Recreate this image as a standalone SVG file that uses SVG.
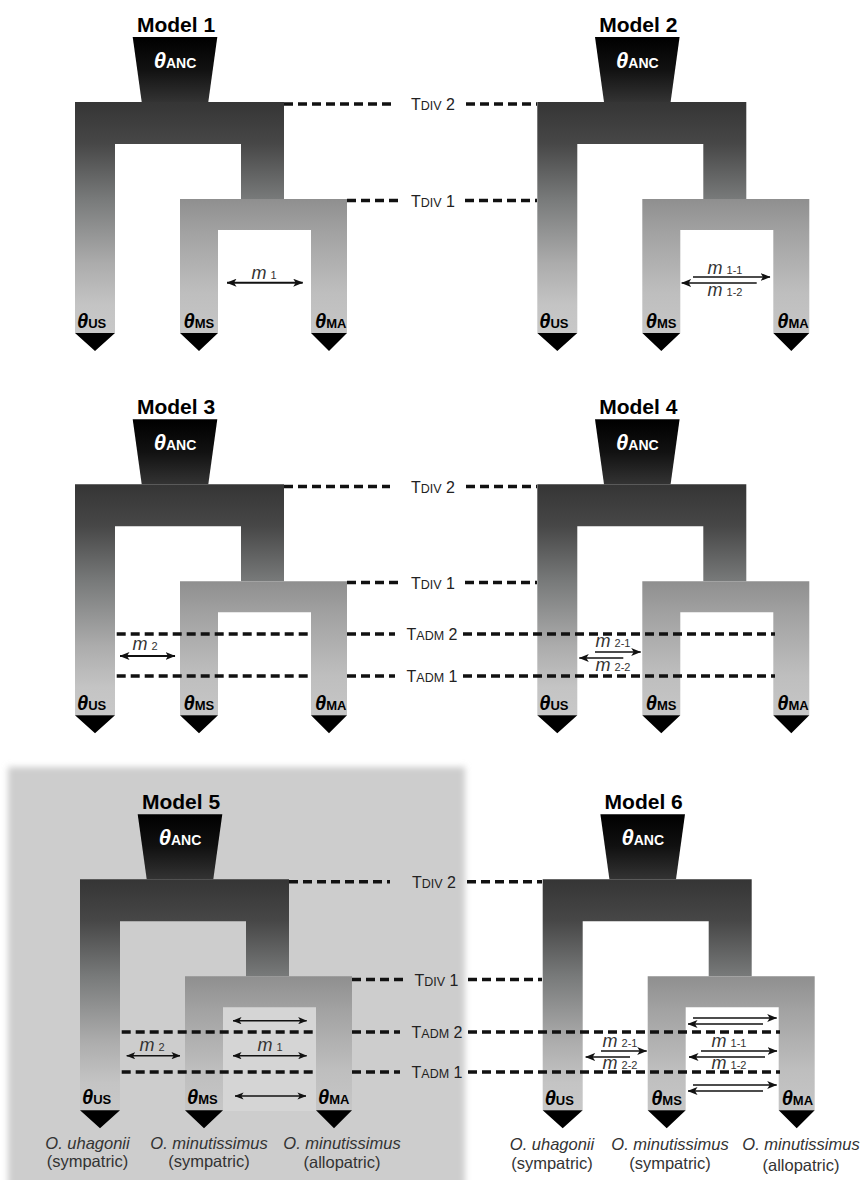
<svg xmlns="http://www.w3.org/2000/svg" xmlns:xlink="http://www.w3.org/1999/xlink" width="866" height="1180" viewBox="0 0 866 1180">
<style>
text{font-family:"Liberation Sans",Arial,sans-serif}
.title{font-weight:bold;font-size:21px;text-anchor:middle;fill:#000}
.anc{font-weight:bold;font-size:14px;fill:#fff;text-anchor:middle}
.leaf{font-weight:bold;font-size:13px;fill:#000}
.th{font-style:italic;font-size:20px}
.tha{font-style:italic;font-size:22px}
.tl{font-size:16px;fill:#222;text-anchor:middle}
.sc{font-size:12.5px}
.ml{font-size:18px;font-style:italic;fill:#333;text-anchor:middle}
.sub{font-size:11px;font-style:normal}
.sp{font-size:16.5px;fill:#333;text-anchor:middle}
.it{font-style:italic}
.dash{stroke:#111;stroke-width:3.5;stroke-dasharray:9 5;fill:none}
.arr{stroke:#111;stroke-width:2;fill:none}
.arrd{stroke:#111;stroke-width:1.7;fill:none}
.arrt{stroke:#111;stroke-width:1.4;fill:none}
.b2{marker-start:url(#ah);marker-end:url(#ah)}
.e{marker-end:url(#ah)}
.s{marker-start:url(#ah)}
.bt{marker-start:url(#ahs);marker-end:url(#ahs)}
</style>
<defs>
<linearGradient id="gU" x1="0" y1="0" x2="0" y2="1">
<stop offset="0" stop-color="#353535"/>
<stop offset="0.18" stop-color="#474747"/>
<stop offset="0.42" stop-color="#787a7a"/>
<stop offset="0.7" stop-color="#acacac"/>
<stop offset="0.88" stop-color="#c4c4c4"/>
<stop offset="1" stop-color="#c8c8c8"/>
</linearGradient>
<linearGradient id="gL" x1="0" y1="0" x2="0" y2="1">
<stop offset="0" stop-color="#8f8f8f"/>
<stop offset="0.25" stop-color="#a2a2a2"/>
<stop offset="0.7" stop-color="#bebebe"/>
<stop offset="1" stop-color="#c6c6c6"/>
</linearGradient>
<linearGradient id="gA" x1="0" y1="0" x2="0" y2="1">
<stop offset="0" stop-color="#000"/>
<stop offset="0.5" stop-color="#111"/>
<stop offset="1" stop-color="#333"/>
</linearGradient>
<filter id="soft" x="-5%" y="-5%" width="110%" height="110%"><feGaussianBlur stdDeviation="3"/></filter>
<marker id="ah" viewBox="0 0 10 8" refX="9.5" refY="4" markerWidth="10" markerHeight="8" markerUnits="userSpaceOnUse" orient="auto-start-reverse"><path d="M0,0 L10,4 L0,8 L2.5,4 Z" fill="#111"/></marker>
<marker id="ahs" viewBox="0 0 10 8" refX="9.5" refY="4" markerWidth="9" markerHeight="7.5" markerUnits="userSpaceOnUse" orient="auto-start-reverse"><path d="M0,0 L10,4 L0,8 L2.5,4 Z" fill="#111"/></marker>
<path id="upper" d="M0,0 H209 V97 H166 V42 H40 V231 H0 Z"/>
<path id="lower" d="M105,97 H272 V231 H236 V128 H143 V231 H105 Z"/>
<path id="anc" d="M57.7,-65 H142.3 L133.3,0 H66.7 Z"/>
<path id="tri" d="M0,231 H40 L20,249 Z M105,231 H143 L124,249 Z M236,231 H272 L254,249 Z"/>
</defs>
<rect width="866" height="1180" fill="#fff"/>
<rect x="8" y="767" width="457" height="430" fill="#cdcdcd" filter="url(#soft)"/>
<rect x="223" y="1007" width="93" height="104" fill="#d5d5d5"/>

<g id="model1" transform="translate(75,102)">
<use href="#upper" fill="url(#gU)"/><use href="#lower" fill="url(#gL)"/><use href="#anc" fill="url(#gA)"/><use href="#tri" fill="#000"/>
<text class="title" x="101" y="-70">Model 1</text>
<text class="anc" x="100" y="-34"><tspan class="tha">θ</tspan>ANC</text>
<text class="leaf" x="2" y="226"><tspan class="th">θ</tspan>US</text>
<text class="leaf" x="108.5" y="226"><tspan class="th">θ</tspan>MS</text>
<text class="leaf" x="240" y="226"><tspan class="th">θ</tspan>MA</text>
</g>
<g id="model2" transform="translate(537.3,102)">
<use href="#upper" fill="url(#gU)"/><use href="#lower" fill="url(#gL)"/><use href="#anc" fill="url(#gA)"/><use href="#tri" fill="#000"/>
<text class="title" x="101" y="-70">Model 2</text>
<text class="anc" x="100" y="-34"><tspan class="tha">θ</tspan>ANC</text>
<text class="leaf" x="2" y="226"><tspan class="th">θ</tspan>US</text>
<text class="leaf" x="108.5" y="226"><tspan class="th">θ</tspan>MS</text>
<text class="leaf" x="240" y="226"><tspan class="th">θ</tspan>MA</text>
</g>
<g id="model3" transform="translate(75,484.3)">
<use href="#upper" fill="url(#gU)"/><use href="#lower" fill="url(#gL)"/><use href="#anc" fill="url(#gA)"/><use href="#tri" fill="#000"/>
<text class="title" x="101" y="-70">Model 3</text>
<text class="anc" x="100" y="-34"><tspan class="tha">θ</tspan>ANC</text>
<text class="leaf" x="2" y="226"><tspan class="th">θ</tspan>US</text>
<text class="leaf" x="108.5" y="226"><tspan class="th">θ</tspan>MS</text>
<text class="leaf" x="240" y="226"><tspan class="th">θ</tspan>MA</text>
</g>
<g id="model4" transform="translate(537.3,484.3)">
<use href="#upper" fill="url(#gU)"/><use href="#lower" fill="url(#gL)"/><use href="#anc" fill="url(#gA)"/><use href="#tri" fill="#000"/>
<text class="title" x="101" y="-70">Model 4</text>
<text class="anc" x="100" y="-34"><tspan class="tha">θ</tspan>ANC</text>
<text class="leaf" x="2" y="226"><tspan class="th">θ</tspan>US</text>
<text class="leaf" x="108.5" y="226"><tspan class="th">θ</tspan>MS</text>
<text class="leaf" x="240" y="226"><tspan class="th">θ</tspan>MA</text>
</g>
<g id="model5" transform="translate(80,879.3)">
<use href="#upper" fill="url(#gU)"/><use href="#lower" fill="url(#gL)"/><use href="#anc" fill="url(#gA)"/><use href="#tri" fill="#000"/>
<text class="title" x="101" y="-70">Model 5</text>
<text class="anc" x="100" y="-34"><tspan class="tha">θ</tspan>ANC</text>
<text class="leaf" x="2" y="225"><tspan class="th">θ</tspan>US</text>
<text class="leaf" x="107" y="225"><tspan class="th">θ</tspan>MS</text>
<text class="leaf" x="238" y="225"><tspan class="th">θ</tspan>MA</text>
</g>
<g id="model6" transform="translate(542.7,879.3)">
<use href="#upper" fill="url(#gU)"/><use href="#lower" fill="url(#gL)"/><use href="#anc" fill="url(#gA)"/><use href="#tri" fill="#000"/>
<text class="title" x="101" y="-70">Model 6</text>
<text class="anc" x="100" y="-34"><tspan class="tha">θ</tspan>ANC</text>
<text class="leaf" x="2" y="226"><tspan class="th">θ</tspan>US</text>
<text class="leaf" x="108.5" y="226"><tspan class="th">θ</tspan>MS</text>
<text class="leaf" x="239" y="226"><tspan class="th">θ</tspan>MA</text>
</g>

<g id="connectors">
<path class="dash" d="M284,104 H392 M466,104 H537"/>
<path class="dash" d="M347,200.5 H400 M465,200.5 H537"/>
<path class="dash" d="M284,486.5 H390 M466,486.5 H537"/>
<path class="dash" d="M347,582.5 H400 M465,582.5 H537"/>
<path class="dash" d="M116.7,634 H310.7 M347,634 H395 M463,634 H775"/>
<path class="dash" d="M116.7,676 H310.7 M347,676 H395 M463,676 H775"/>
<path class="dash" d="M289,881.7 H390 M467,881.7 H542"/>
<path class="dash" d="M352,979.5 H405 M468,979.5 H542"/>
<path class="dash" d="M121.7,1032 H316 M352,1032 H400 M468,1032 H780"/>
<path class="dash" d="M121.7,1072 H316 M352,1072 H400 M468,1072 H780"/>

<line class="arr b2" x1="227" y1="282.7" x2="302.7" y2="282.7"/>
<line class="arrd e" x1="693" y1="277" x2="770" y2="277"/>
<line class="arrd s" x1="681.7" y1="283" x2="756.7" y2="283"/>
<line class="arr b2" x1="120" y1="656" x2="175" y2="656"/>
<line class="arrd e" x1="595" y1="652" x2="640.7" y2="652"/>
<line class="arrd s" x1="579.3" y1="658" x2="623.3" y2="658"/>
<line class="arrt bt" x1="233" y1="1020.7" x2="306.7" y2="1020.7"/>
<line class="arrt bt" x1="233" y1="1055.7" x2="306.7" y2="1055.7"/>
<line class="arrt bt" x1="126.7" y1="1055.7" x2="180" y2="1055.7"/>
<line class="arrt bt" x1="235" y1="1096" x2="306" y2="1096"/>
<line class="arrd e" x1="693" y1="1018" x2="776.7" y2="1018"/>
<line class="arrd s" x1="688" y1="1024" x2="763" y2="1024"/>
<line class="arrd e" x1="701" y1="1051" x2="777" y2="1051"/>
<line class="arrd s" x1="689" y1="1057" x2="765" y2="1057"/>
<line class="arrd e" x1="601" y1="1051" x2="646.7" y2="1051"/>
<line class="arrd s" x1="585.7" y1="1057" x2="630" y2="1057"/>
<line class="arrd e" x1="693" y1="1085" x2="776.7" y2="1085"/>
<line class="arrd s" x1="688" y1="1091" x2="763" y2="1091"/>
</g>

<g id="time-labels">
<text class="tl" x="433" y="110">T<tspan class="sc">DIV</tspan> 2</text>
<text class="tl" x="433" y="206.5">T<tspan class="sc">DIV</tspan> 1</text>
<text class="tl" x="433" y="492.5">T<tspan class="sc">DIV</tspan> 2</text>
<text class="tl" x="433" y="588.5">T<tspan class="sc">DIV</tspan> 1</text>
<text class="tl" x="432" y="639.5">T<tspan class="sc">ADM</tspan> 2</text>
<text class="tl" x="432" y="681.5">T<tspan class="sc">ADM</tspan> 1</text>
<text class="tl" x="434" y="888">T<tspan class="sc">DIV</tspan> 2</text>
<text class="tl" x="436.5" y="985.5">T<tspan class="sc">DIV</tspan> 1</text>
<text class="tl" x="437" y="1038">T<tspan class="sc">ADM</tspan> 2</text>
<text class="tl" x="437" y="1078">T<tspan class="sc">ADM</tspan> 1</text>
</g>

<g id="migration-labels">
<text class="ml" x="264" y="279">m<tspan class="sub" dx="4">1</tspan></text>
<text class="ml" x="725" y="274">m<tspan class="sub" dx="4">1-1</tspan></text>
<text class="ml" x="725" y="296">m<tspan class="sub" dx="4">1-2</tspan></text>
<text class="ml" x="145" y="650">m<tspan class="sub" dx="4">2</tspan></text>
<text class="ml" x="613" y="647">m<tspan class="sub" dx="4">2-1</tspan></text>
<text class="ml" x="613" y="671">m<tspan class="sub" dx="4">2-2</tspan></text>
<text class="ml" x="270" y="1051">m<tspan class="sub" dx="4">1</tspan></text>
<text class="ml" x="152" y="1051">m<tspan class="sub" dx="4">2</tspan></text>
<text class="ml" x="729" y="1046.5">m<tspan class="sub" dx="4">1-1</tspan></text>
<text class="ml" x="729" y="1069">m<tspan class="sub" dx="4">1-2</tspan></text>
<text class="ml" x="620" y="1046.5">m<tspan class="sub" dx="4">2-1</tspan></text>
<text class="ml" x="620" y="1069">m<tspan class="sub" dx="4">2-2</tspan></text>
</g>

<g id="species-labels">
<text class="sp it" x="87.5" y="1149">O. uhagonii</text>
<text class="sp" x="87.5" y="1167">(sympatric)</text>
<text class="sp it" x="209" y="1149">O. minutissimus</text>
<text class="sp" x="209" y="1167">(sympatric)</text>
<text class="sp it" x="342" y="1149">O. minutissimus</text>
<text class="sp" x="342" y="1168">(allopatric)</text>
<text class="sp it" x="552" y="1150">O. uhagonii</text>
<text class="sp" x="552" y="1169">(sympatric)</text>
<text class="sp it" x="670" y="1150">O. minutissimus</text>
<text class="sp" x="670" y="1169">(sympatric)</text>
<text class="sp it" x="801" y="1150">O. minutissimus</text>
<text class="sp" x="801" y="1171">(allopatric)</text>
</g>
</svg>
